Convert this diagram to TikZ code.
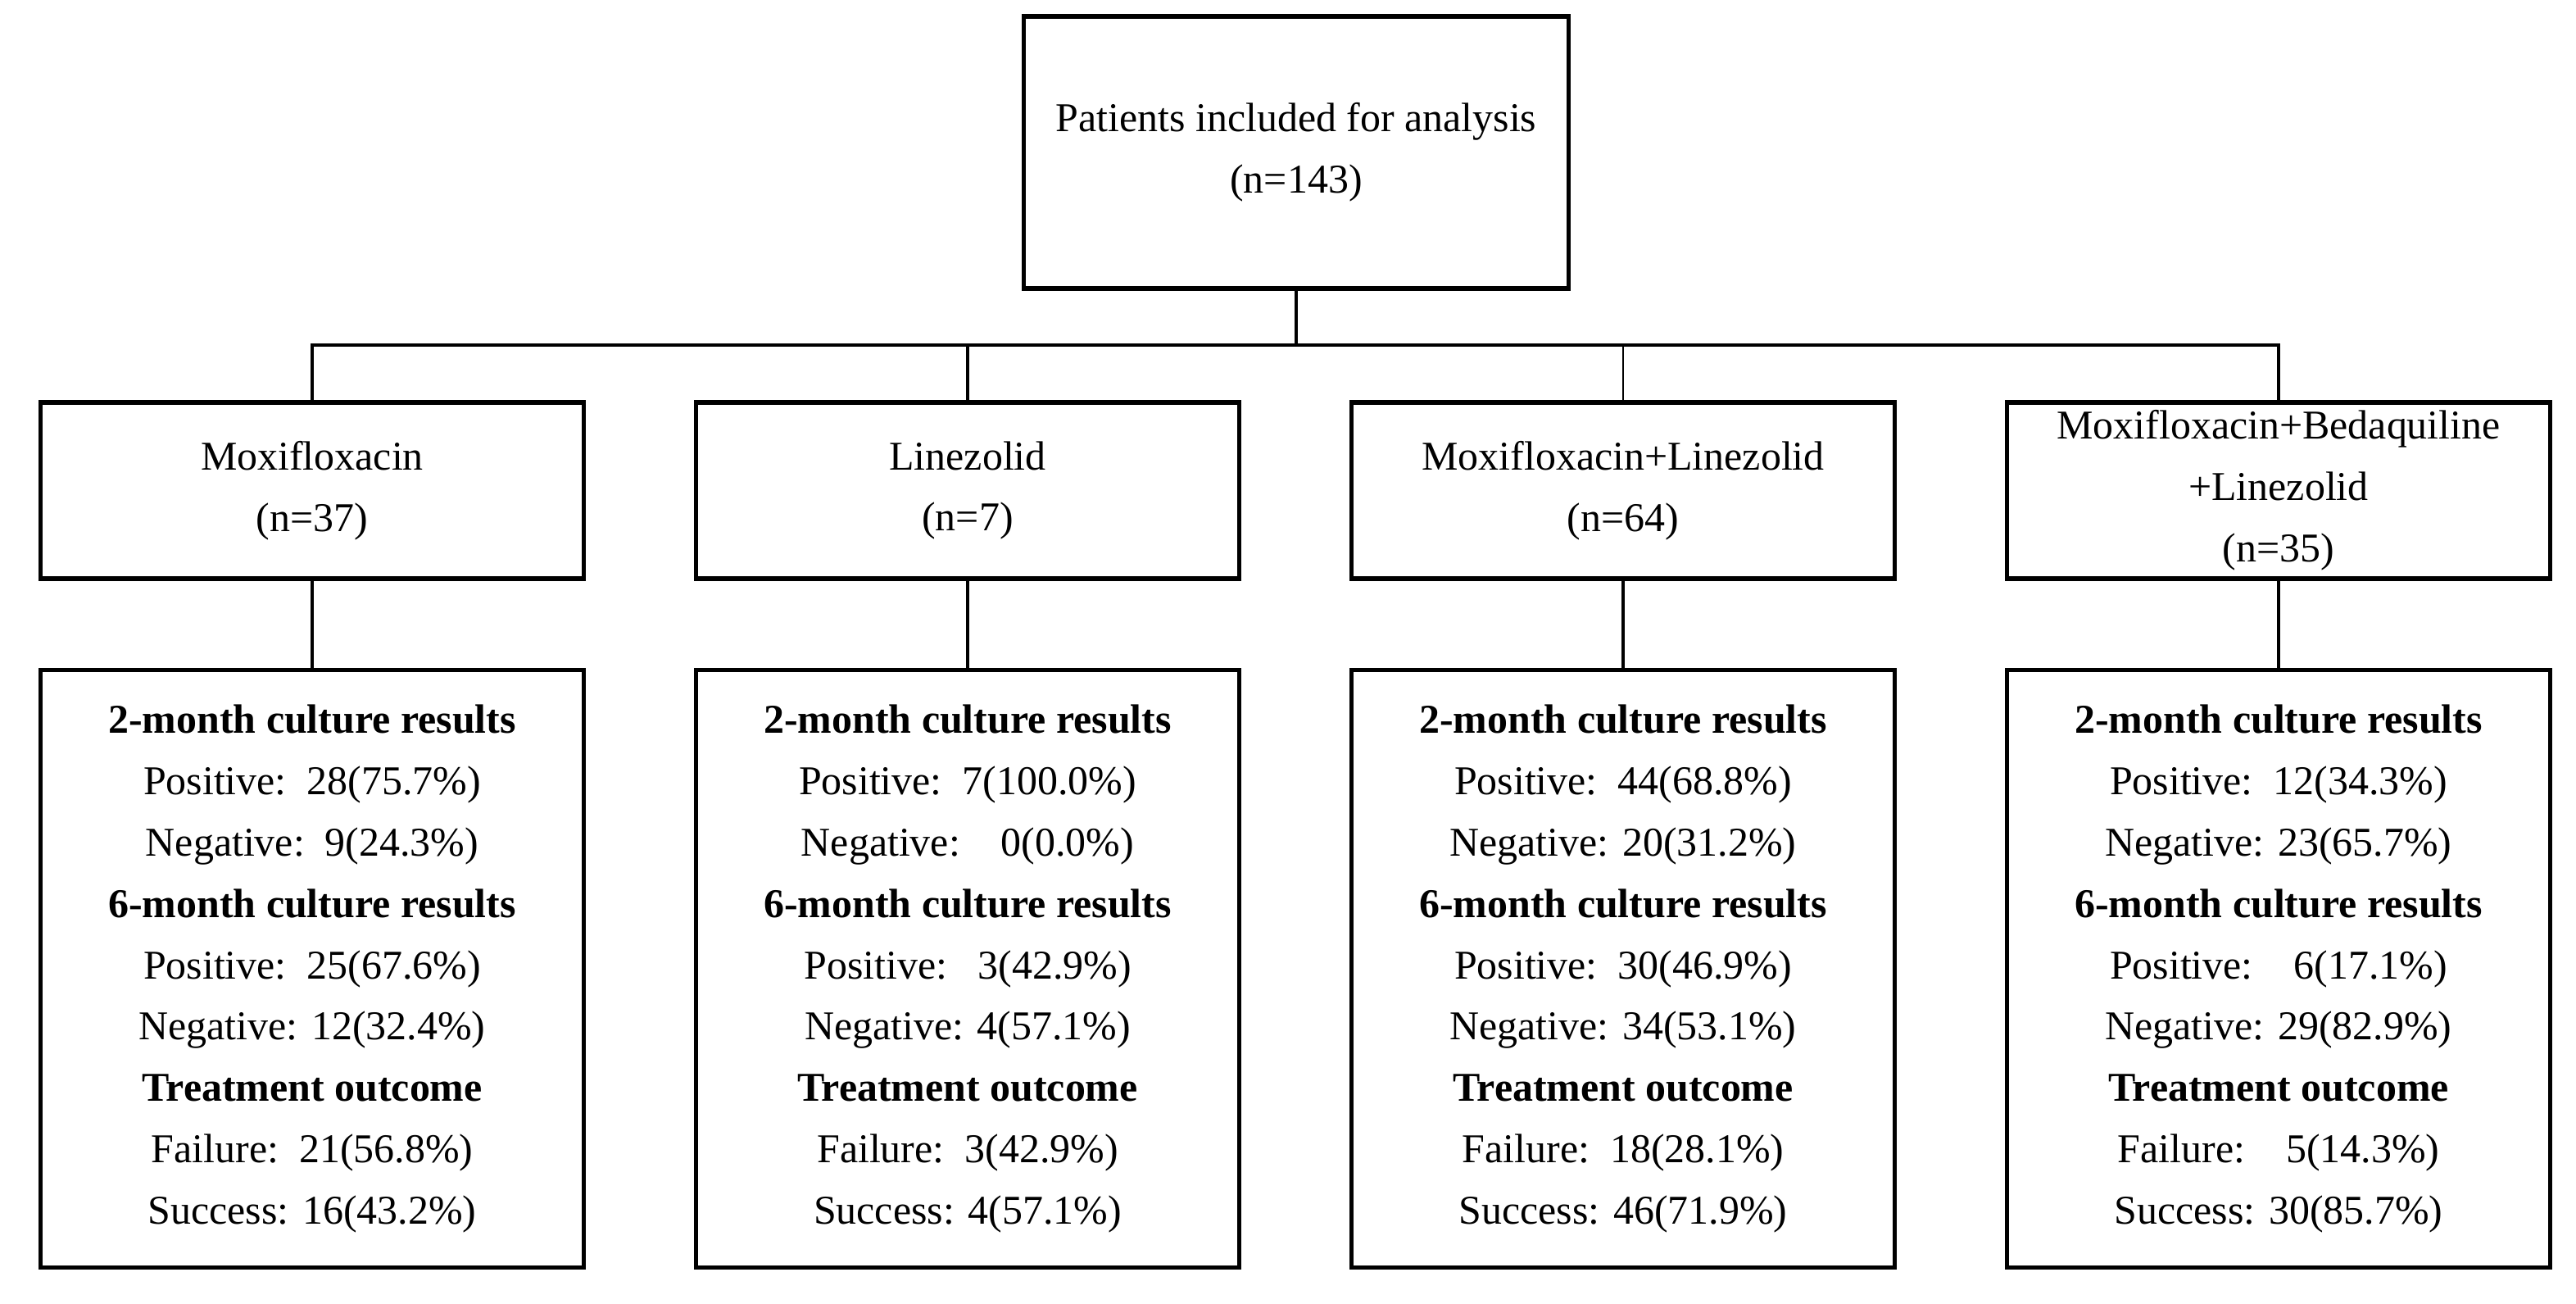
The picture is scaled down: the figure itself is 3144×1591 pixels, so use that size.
\documentclass[tikz,border=0pt]{standalone}
\usepackage{fontspec}
\setmainfont{Liberation Serif}
\newcommand\figfont{\fontsize{14.2pt}{21.3pt}\selectfont}
\begin{document}
\begin{tikzpicture}[x=0.01cm,y=-0.01cm,
  boxbase/.style={draw, line width=1.5pt, inner sep=0pt, align=center, font=\figfont},
  topbox/.style={boxbase, minimum width=6.65cm, minimum height=3.32cm},
  midbox/.style={boxbase, minimum width=6.62cm, minimum height=2.15cm},
  resbox/.style={boxbase, minimum width=6.62cm, minimum height=7.28cm},
  conn/.style={line width=1.3pt, line cap=rect},
  thinconn/.style={line width=0.6pt}
]
\useasboundingbox (0,0) rectangle (3144,1591);
\fill[white] (0,0) rectangle (3144,1591);

\node[topbox] (top) at (1582,186) {Patients included for analysis\\(n=143)};

\node[midbox] (m1) at (381,598.5) {Moxifloxacin\\(n=37)};
\node[midbox] (m2) at (1181,598.5) {Linezolid\\(n=7)};
\node[midbox] (m3) at (1981,598.5) {Moxifloxacin+Linezolid\\(n=64)};
\node[midbox] (m4) at (2781,598.5) {Moxifloxacin+Bedaquiline\\+Linezolid\\(n=35)};

\node[resbox] (b1) at (381,1182) {\textbf{2-month culture results}\\
Positive:~~28(75.7\%)\\
Negative:~~9(24.3\%)\\
\textbf{6-month culture results}\\
Positive:~~25(67.6\%)\\
Negative: 12(32.4\%)\\
\textbf{Treatment outcome}\\
Failure:~~21(56.8\%)\\
Success: 16(43.2\%)};

\node[resbox] (b2) at (1181,1182) {\textbf{2-month culture results}\\
Positive:~~7(100.0\%)\\
Negative:~~~~0(0.0\%)\\
\textbf{6-month culture results}\\
Positive:~~~3(42.9\%)\\
Negative: 4(57.1\%)\\
\textbf{Treatment outcome}\\
Failure:~~3(42.9\%)\\
Success: 4(57.1\%)};

\node[resbox] (b3) at (1981,1182) {\textbf{2-month culture results}\\
Positive:~~44(68.8\%)\\
Negative: 20(31.2\%)\\
\textbf{6-month culture results}\\
Positive:~~30(46.9\%)\\
Negative: 34(53.1\%)\\
\textbf{Treatment outcome}\\
Failure:~~18(28.1\%)\\
Success: 46(71.9\%)};

\node[resbox] (b4) at (2781,1182) {\textbf{2-month culture results}\\
Positive:~~12(34.3\%)\\
Negative: 23(65.7\%)\\
\textbf{6-month culture results}\\
Positive:~~~~6(17.1\%)\\
Negative: 29(82.9\%)\\
\textbf{Treatment outcome}\\
Failure:~~~~5(14.3\%)\\
Success: 30(85.7\%)};

\coordinate (bus) at (1582,421);

\draw[conn] (top.south) -- (bus);
\draw[conn] (m1.north) -- (m1.north |- bus) -- (m4.north |- bus) -- (m4.north);
\draw[conn] (m2.north) -- (m2.north |- bus);
\draw[thinconn] (m3.north) -- (m3.north |- bus);

\draw[conn] (m1.south) -- (b1.north);
\draw[conn] (m2.south) -- (b2.north);
\draw[conn] (m3.south) -- (b3.north);
\draw[conn] (m4.south) -- (b4.north);
\end{tikzpicture}
\end{document}
